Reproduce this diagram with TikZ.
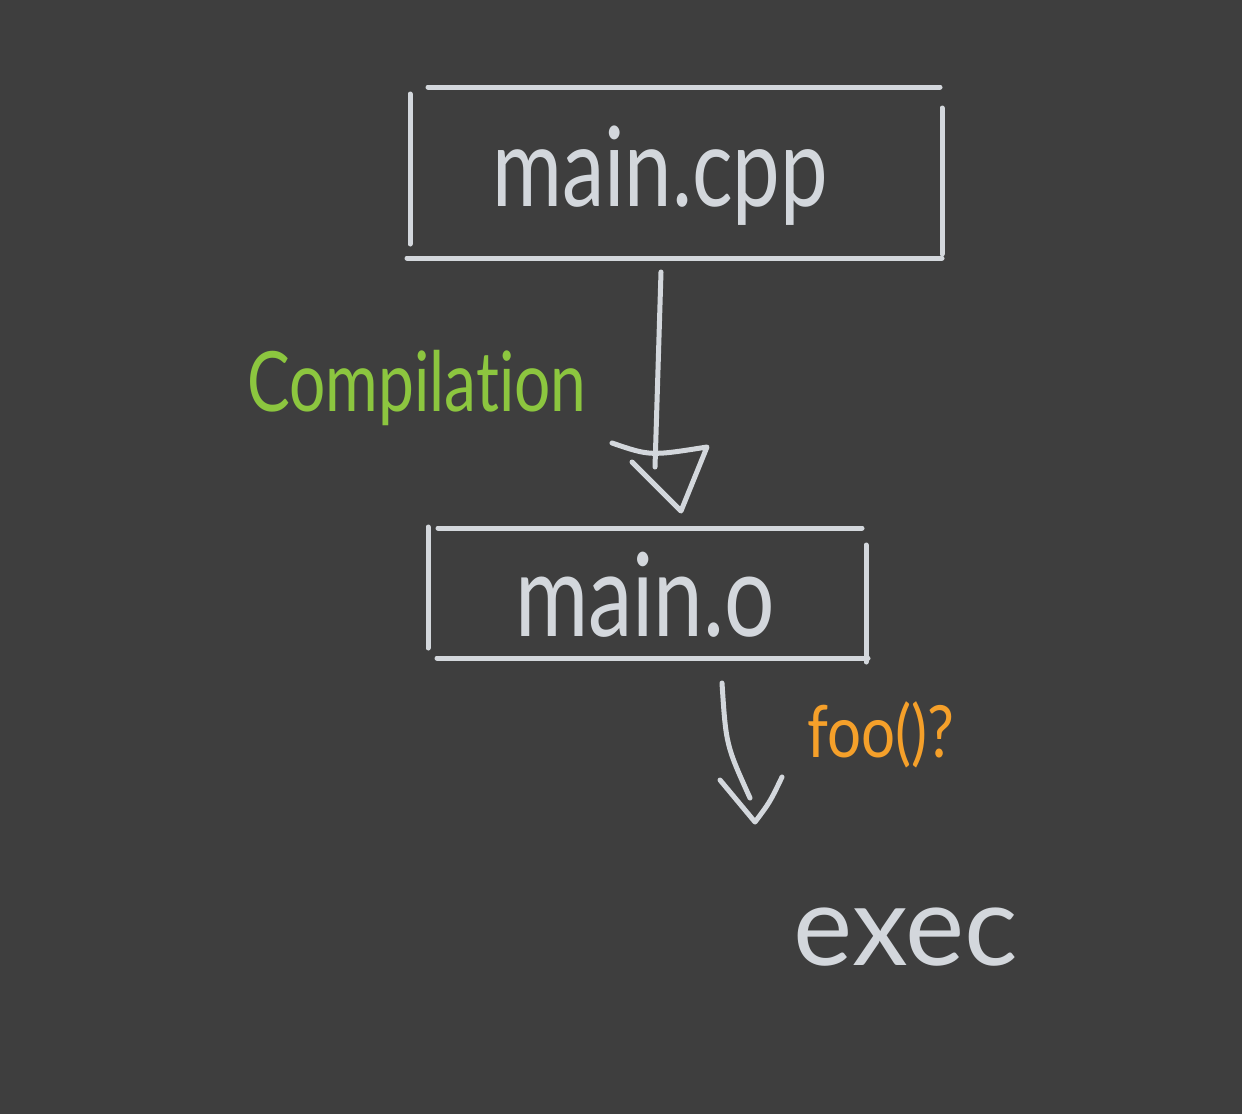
\documentclass[tikz,border=0pt]{standalone}
\usepackage{fontspec}
\setmainfont{Lato}[Ligatures=NoCommon]
\definecolor{bg}{HTML}{3E3E3E}
\definecolor{chalk}{HTML}{D3D7DC}
\definecolor{chalkgreen}{HTML}{8CC63F}
\definecolor{chalkorange}{HTML}{F5A02A}
\begin{document}
\begin{tikzpicture}[x=1pt,y=-1pt,
  stroke/.style={draw=chalk, line width=5pt, line cap=round, line join=round},
  txt/.style={inner sep=0pt, text=chalk}]
\fill[bg] (0,0) rectangle (1242,1114);
\useasboundingbox (0,0) rectangle (1242,1114);

% box main.cpp
\draw[stroke] (428,87) -- (940,87);
\draw[stroke] (410,94) -- (410,244);
\draw[stroke] (407,258) -- (942,258);
\draw[stroke] (942,108) -- (942,254);
\node[txt, font=\fontsize{85}{100}\selectfont] (cpp) at (660,176) {\scalebox{1}[1.3]{main.cpp}};

% arrow compilation
\coordinate (a1s) at (661,272);
\coordinate (a1e) at (655,467);
\draw[stroke] (a1s) -- (a1e);
\draw[stroke] (612,443) .. controls (650,456) .. (707,447) -- (681,511) -- (632,462);
\node[txt, text=chalkgreen, font=\fontsize{64}{76}\selectfont] (comp) at (417,388) {\scalebox{1}[1.3]{Compilation}};

% box main.o
\draw[stroke] (438,528) -- (862,528);
\draw[stroke] (428,527) -- (428,648);
\draw[stroke] (437,658) -- (868,658);
\draw[stroke] (866,545) -- (866,662);
\node[txt, font=\fontsize{89}{100}\selectfont] (mo) at (645,595) {\scalebox{1}[1.3]{main.o}};

% arrow to exec
\coordinate (a2s) at (722,683);
\coordinate (a2e) at (750,798);
\draw[stroke] (a2s) .. controls (726,745) .. (a2e);
\draw[stroke] (720,780) -- (755,822) .. controls (770,802) .. (782,777);
\node[txt, text=chalkorange, font=\fontsize{60}{70}\selectfont] (foo) at (881,735) {\scalebox{1}[1.2]{foo()?}};

\node[txt, font=\fontsize{112}{130}\selectfont] (exec) at (906,937) {exec};
\end{tikzpicture}
\end{document}
